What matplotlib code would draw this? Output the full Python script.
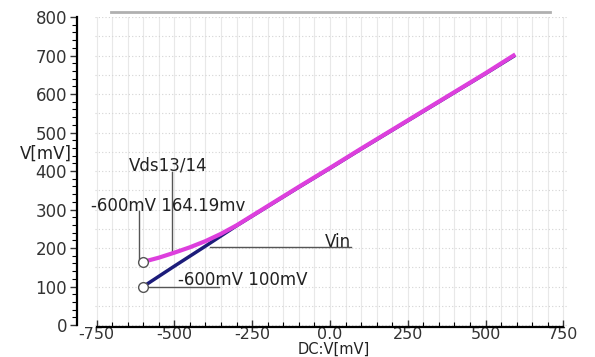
import matplotlib
matplotlib.use("Agg")
import matplotlib.pyplot as plt
from matplotlib.lines import Line2D
from matplotlib.ticker import MultipleLocator

# DC sweep values (mV)
dc_vin = [-600, -500, -400, -300, -200, -100, 0, 100, 200, 300, 400, 500, 590]
vin = [100, 153, 205, 258, 308, 358, 407, 457, 506, 555, 604, 653, 698]

dc_vds = [-600, -550, -500, -450, -400, -350, -300, -250, -200, -100, 0,
          100, 200, 300, 400, 500, 590]
vds = [164.19, 175, 188, 202, 218, 237, 259, 284, 309, 359, 408,
       458, 507, 556, 605, 654, 700]

xticks = [-750, -500, -250, 0, 250, 500, 750]
xtick_labels = ["-750", "-500", "-250", "0.0", "250", "500", "750"]
yticks = [0, 100, 200, 300, 400, 500, 600, 700, 800]

FS = 12
plt.rcParams["font.family"] = "DejaVu Sans"

fig = plt.figure(figsize=(5.95, 3.57), dpi=100)
ax = fig.add_axes([95 / 595, 30 / 357, 473 / 595, 310 / 357])

ax.set_xlim(-755, 765)
ax.set_ylim(-5, 800)

# faint grid
ax.xaxis.set_minor_locator(MultipleLocator(50))
ax.yaxis.set_minor_locator(MultipleLocator(20))
ax.set_xticks(xticks)
ax.set_xticklabels(xtick_labels)
ax.set_yticks(yticks)
for gx in range(-750, 751, 50):
    ax.axvline(gx, color="#e8e8e8", lw=0.8, zorder=0)
for gy in range(0, 801, 50):
    ax.axhline(gy, color="#d4d4d4", lw=0.8, ls=(0, (1, 2)), zorder=0)

# curves
ax.plot(dc_vin, vin, color="#1c1c7a", lw=2.5, zorder=3)
ax.plot(dc_vds, vds, color="#dd3fdd", lw=3, zorder=4)

# markers at -600 mV
ax.plot([dc_vds[0]], [vds[0]], marker="o", ms=7, mfc="white", mec="#555555",
        mew=1, zorder=5, clip_on=False)
ax.plot([dc_vin[0]], [vin[0]], marker="o", ms=7, mfc="white", mec="#555555",
        mew=1, zorder=5, clip_on=False)

# annotations
ac = "#555555"
tc = "#222222"
ax.plot([-615, -615], [vds[0], 296], color=ac, lw=1, zorder=2)
ax.text(-768, 309, "-600mV 164.19mv", fontsize=FS, color=tc,
        ha="left", va="center", zorder=6)
ax.plot([-507, -507], [186, 398], color=ac, lw=1, zorder=2)
ax.text(-645, 414, "Vds13/14", fontsize=FS, color=tc,
        ha="left", va="center", zorder=6)
ax.plot([-385, 67], [203, 203], color=ac, lw=1, zorder=2)
ax.text(67, 217, "Vin", fontsize=FS, color=tc,
        ha="right", va="center", zorder=6)
ax.plot([-600, -355], [100, 100], color=ac, lw=1, zorder=2)
ax.text(-487, 117, "-600mV 100mV", fontsize=FS, color=tc,
        ha="left", va="center", zorder=6)

# axes styling
for s in ["top", "right"]:
    ax.spines[s].set_visible(False)
ax.spines["left"].set_position(("outward", 13))
ax.spines["left"].set_bounds(0, 800)
ax.spines["bottom"].set_bounds(-750, 750)
ax.spines["left"].set_linewidth(1.6)
ax.spines["bottom"].set_linewidth(1.6)
ax.tick_params(axis="y", which="major", direction="out", length=5, width=1,
               labelsize=FS, colors="#333333", pad=2)
ax.tick_params(axis="y", which="minor", direction="out", length=3.5, width=0.8)
ax.tick_params(axis="x", which="major", direction="in", length=5, width=1,
               labelsize=11.5, colors="#333333", pad=0)
ax.tick_params(axis="x", which="minor", direction="in", length=3.5, width=0.8)

fig.text(20 / 595, 1 - 154 / 357, "V[mV]", fontsize=FS, color=tc,
         ha="left", va="center")
fig.text(334 / 595, 0.5 / 357, "DC:V[mV]", fontsize=10.5, color=tc,
         ha="center", va="bottom")

# gray bar across the top
fig.add_artist(Line2D([111 / 595, 550 / 595], [1 - 12 / 357, 1 - 12 / 357],
                      color="#b0b0b0", lw=2))

fig.savefig("out.png", dpi=100)
